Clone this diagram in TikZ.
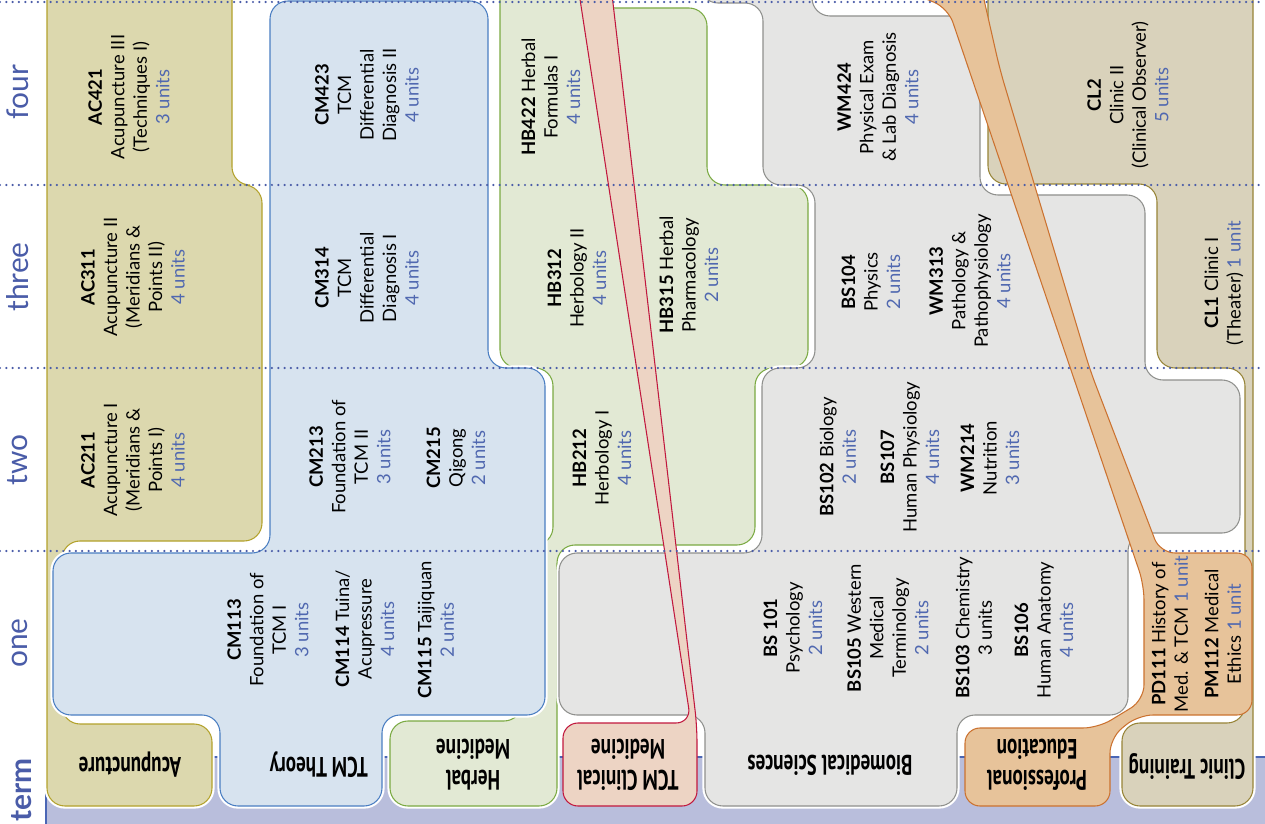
\documentclass[tikz,border=0pt]{standalone}
\usepackage{fontspec}
\setmainfont{Lato}
\newfontfamily\catfont[FakeStretch=0.68]{PT Sans}
\definecolor{termBlue}{HTML}{4A5CA8}
\definecolor{unitBlue}{HTML}{5068B0}
\definecolor{bandFill}{HTML}{B9BEDC}
\definecolor{bandLine}{HTML}{4A66B5}
\definecolor{acuFill}{HTML}{DCD8AE}
\definecolor{acuLine}{HTML}{B3A22C}
\definecolor{tcmFill}{HTML}{D7E3EF}
\definecolor{tcmLine}{HTML}{4A7EC2}
\definecolor{herbFill}{HTML}{E2E9D4}
\definecolor{herbLine}{HTML}{7BAA43}
\definecolor{clinFill}{HTML}{EDD4C4}
\definecolor{clinLine}{HTML}{C1183E}
\definecolor{bioFill}{HTML}{E5E5E4}
\definecolor{bioLine}{HTML}{8F908D}
\definecolor{profFill}{HTML}{E7C39A}
\definecolor{profLine}{HTML}{CB7230}
\definecolor{trainFill}{HTML}{D9D2BB}
\definecolor{trainLine}{HTML}{978437}
\newcommand\ccode[1]{\textbf{#1}}
\newcommand\cunits[1]{\textcolor{unitBlue}{#1}}

\begin{document}
\begin{tikzpicture}[x=0.02cm,y=-0.02cm,
area/.style={preaction={draw=white,line width=3pt},line width=0.6pt,rounded corners=0.36cm},
strip/.style={line width=0.6pt,rounded corners=0.3cm},
course/.style={rotate=90,align=center,font=\fontsize{10.5}{12.8}\selectfont,inner sep=0pt},
catlbl/.style={rotate=180,align=center,font=\catfont\bfseries\fontsize{16}{17.5}\selectfont,inner sep=0pt},
termlbl/.style={rotate=90,text=termBlue,font=\fontsize{17}{20}\selectfont,inner sep=0pt},
rule/.style={draw=termBlue,line width=1.4pt,dash pattern=on 0pt off 3.6pt,line cap=round}]
\useasboundingbox (0,0) rectangle (1265,824);
\clip (0,0) rectangle (1265,824);

% term band
\fill[bandFill] (46,757) rectangle (1265,830);
\draw[bandLine,line width=0.6pt] (46,830) -- (46,757) -- (1265,757);

% subject areas
\path[area,fill=acuFill,draw=acuLine] (47,-40) -- (232,-40) -- (232,185) -- (262,185) -- (262,541) -- (62,541) -- (62,724) -- (212,724) -- (212,806) -- (47,806) -- cycle;
\path[area,fill=herbFill,draw=herbLine] (500,-40) -- (597,-40) -- (597,8) -- (707,8) -- (707,185) -- (808,185) -- (808,368) -- (755,368) -- (755,545) -- (557,545) -- (557,806) -- (390,806) -- (390,721) -- (522,721) -- (522,545) -- (553,545) -- (553,368) -- (500,368) -- cycle;
\path[area,fill=tcmFill,draw=tcmLine] (270,1) -- (488,1) -- (488,368) -- (545,368) -- (545,715) -- (382,715) -- (382,806) -- (220,806) -- (220,715) -- (53,715) -- (53,553) -- (270,553) -- cycle;
\path[area,fill=bioFill,draw=bioLine] (700,-40) -- (700,3) -- (763,3) -- (763,185) -- (815,185) -- (815,368) -- (762,368) -- (762,553) -- (559,553) -- (559,715) -- (705,715) -- (705,806) -- (957,806) -- (957,715) -- (1128,715) -- (1128,533) -- (1240,533) -- (1240,380) -- (1145,380) -- (1145,195) -- (980,195) -- (980,16) -- (812,16) -- (812,-40) -- cycle;
\path[area,fill=trainFill,draw=trainLine] (988,-40) -- (988,184) -- (1157,184) -- (1157,368) -- (1245,368) -- (1245,723) -- (1122,723) -- (1122,806) -- (1253,806) -- (1253,-40) -- cycle;
\path[strip,fill=clinFill,draw=clinLine] (574,-40) -- (691,723) -- (563,723) -- (563,806) -- (697,806) -- (697,727) -- (608,-40) -- cycle;
\path[strip,fill=profFill,draw=profLine] (880,-40) -- (975,-40) -- (1000,70) -- (1090,370) -- (1160,553) -- (1252,553) -- (1252,715) -- (1138,715) -- (1110,738) -- (1110,806) -- (965,806) -- (965,728) -- (1098,728) -- (1144,700) -- (1144,585) -- (948,8) -- (880,-20) -- cycle;

% term rules
\foreach \yy in {2,185,368,551}
  \draw[rule] (0,\yy) -- (1265,\yy);

% term labels
\node[termlbl] (four) at (18,92) {four};
\node[termlbl] (three) at (18,277) {three};
\node[termlbl] (two) at (18,460) {two};
\node[termlbl] (one) at (20,643) {one};
\node[termlbl,font=\bfseries\fontsize{17}{20}\selectfont] (term) at (22,790) {term};

% courses
\node[course] (ac421) at (129,97) {\ccode{AC421}\\Acupuncture III\\(Techniques I)\\\cunits{3 units}};
\node[course] (ac311) at (133,277) {\ccode{AC311}\\Acupuncture II\\(Meridians \&\\Points II)\\\cunits{4 units}};
\node[course] (ac211) at (133,460) {\ccode{AC211}\\Acupuncture I\\(Meridians \&\\Points I)\\\cunits{4 units}};
\node[course] (cm423) at (367,95) {\ccode{CM423}\\TCM\\Differential\\Diagnosis II\\\cunits{4 units}};
\node[course] (cm314) at (367,278) {\ccode{CM314}\\TCM\\Differential\\Diagnosis I\\\cunits{4 units}};
\node[course] (cm213) at (350,457) {\ccode{CM213}\\Foundation of\\TCM II\\\cunits{3 units}};
\node[course] (cm215) at (456,458) {\ccode{CM215}\\Qigong\\\cunits{2 units}};
\node[course] (cm113) at (268,630) {\ccode{CM113}\\Foundation of\\TCM I\\\cunits{3 units}};
\node[course] (cm114) at (365,629) {\ccode{CM114} Tuina/\\Acupressure\\\cunits{4 units}};
\node[course] (cm115) at (436,630) {\ccode{CM115} Taijiquan\\\cunits{2 units}};
\node[course] (hb422) at (551,97) {\ccode{HB422} Herbal\\Formulas I\\\cunits{4 units}};
\node[course] (hb312) at (577,278) {\ccode{HB312}\\Herbology II\\\cunits{4 units}};
\node[course] (hb315) at (689,275) {\ccode{HB315} Herbal\\Pharmacology\\\cunits{2 units}};
\node[course] (hb212) at (602,458) {\ccode{HB212}\\Herbology I\\\cunits{4 units}};
\node[course] (wm424) at (878,97) {\ccode{WM424}\\Physical Exam\\\& Lab Diagnosis\\\cunits{4 units}};
\node[course] (bs104) at (871,282) {\ccode{BS104}\\Physics\\\cunits{2 units}};
\node[course] (wm313) at (970,281) {\ccode{WM313}\\Pathology \&\\Pathophysiology\\\cunits{4 units}};
\node[course] (bs102) at (838,457) {\ccode{BS102} Biology\\\cunits{2 units}};
\node[course] (bs107) at (910,457) {\ccode{BS107}\\Human Physiology\\\cunits{4 units}};
\node[course] (wm214) at (990,458) {\ccode{WM214}\\Nutrition\\\cunits{3 units}};
\node[course] (bs101) at (793,628) {\ccode{BS 101}\\Psychology\\\cunits{2 units}};
\node[course] (bs105) at (888,628) {\ccode{BS105} Western\\Medical\\Terminology\\\cunits{2 units}};
\node[course] (bs103) at (974,628) {\ccode{BS103} Chemistry\\3 units};
\node[course] (bs106) at (1044,630) {\ccode{BS106}\\Human Anatomy\\\cunits{4 units}};
\node[course] (cl2) at (1128,95) {\ccode{CL2}\\Clinic II\\(Clinical Observer)\\\cunits{5 units}};
\node[course] (cl1) at (1224,283) {\ccode{CL1} Clinic I\\(Theater) \cunits{1 unit}};
\node[course] (pd111) at (1170,634) {\ccode{PD111} History of\\Med. \& TCM \cunits{1 unit}};
\node[course] (pm112) at (1223,634) {\ccode{PM112} Medical\\Ethics \cunits{1 unit}};

% area labels
\node[catlbl] (acuLbl) at (130,765) {Acupuncture};
\node[catlbl] (tcmLbl) at (319,765) {TCM Theory};
\node[catlbl] (herbLbl) at (473,765) {Herbal\\Medicine};
\node[catlbl] (clinLbl) at (628,765) {TCM Clinical\\Medicine};
\node[catlbl] (bioLbl) at (830,765) {Biomedical Sciences};
\node[catlbl] (profLbl) at (1037,765) {Professional\\Education};
\node[catlbl] (trainLbl) at (1187,767) {Clinic Training};
\end{tikzpicture}
\end{document}
